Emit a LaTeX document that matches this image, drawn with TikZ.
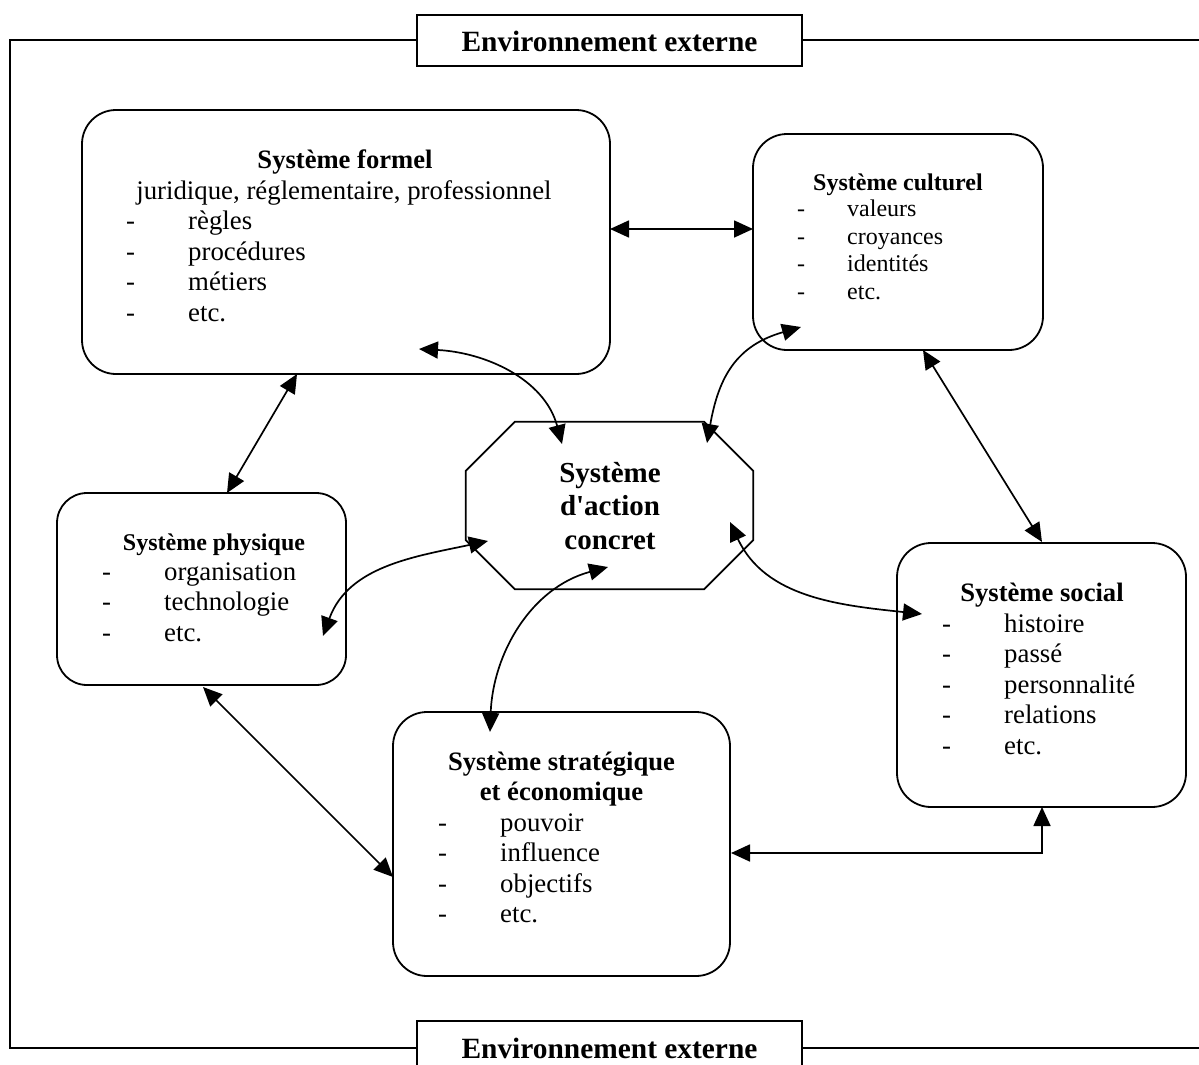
\documentclass[tikz,border=0pt]{standalone}
\usepackage{fontspec}
\setmainfont{Liberation Serif}
\usetikzlibrary{arrows.meta}
\newcommand{\fbody}{\fontsize{26.8}{30.5}\selectfont}
\newcommand{\fsmall}{\fontsize{24}{27.6}\selectfont}
\newcommand{\fhead}{\fontsize{26.6}{30.5}\selectfont\bfseries}
\newcommand{\fsmallhead}{\fontsize{24}{27.6}\selectfont\bfseries}
\newcommand{\fbig}{\fontsize{29}{33}\selectfont\bfseries}
\newcommand{\fenv}{\fontsize{29.4}{33}\selectfont\bfseries}
\begin{document}
\begin{tikzpicture}[x=1pt,y=-1pt,
  frameline/.style={line width=1.8pt},
  sysbox/.style={draw, line width=1.8pt, rounded corners=34pt, inner sep=0pt},
  envbox/.style={draw, line width=1.8pt, fill=white, inner sep=0pt,
                 minimum width=385pt, minimum height=51pt},
  link/.style={line width=1.7pt,
               {Triangle[length=19pt,width=17pt]}-{Triangle[length=19pt,width=17pt]}},
  txt/.style={inner sep=0pt, anchor=base west},
  ttl/.style={inner sep=0pt, anchor=base},
]
\useasboundingbox (0,0) rectangle (1199,1065);

% outer frame of the environment
\draw[frameline] (1199,40) -- (10,40) -- (10,1048) -- (1199,1048);
\node[envbox] (envtop) at (609.5,40.5) {};
\node[ttl, font=\fenv] (envtoplbl) at (609.5,52) {Environnement externe};
\node[envbox] (envbot) at (609.5,1046.5) {};
\node[ttl, font=\fenv] (envbotlbl) at (609.5,1058) {Environnement externe};

% system boxes
\node[sysbox, minimum width=528pt, minimum height=264pt] (formel) at (346,242) {};
\node[sysbox, minimum width=290pt, minimum height=216pt] (culturel) at (898,242) {};
\node[sysbox, rounded corners=30pt, minimum width=289pt, minimum height=192pt] (physique) at (201.5,589) {};
\node[sysbox, minimum width=289pt, minimum height=264pt] (social) at (1041.5,675) {};
\node[sysbox, minimum width=337pt, minimum height=264pt] (strat) at (561.5,844) {};

% central octagon
\node[inner sep=0pt, minimum width=287pt, minimum height=167pt] (action) at (609.5,505.5) {};
\draw[line width=1.8pt]
  ([xshift=49pt]action.north west) -- ([xshift=-49pt]action.north east)
  -- ([yshift=-49pt]action.north east) -- ([yshift=49pt]action.south east)
  -- ([xshift=-49pt]action.south east) -- ([xshift=49pt]action.south west)
  -- ([yshift=49pt]action.south west) -- ([yshift=-49pt]action.north west) -- cycle;
\node[ttl, font=\fbig] (act1) at (610,482.7) {Système};
\node[ttl, font=\fbig] (act2) at (610,515.7) {d\textquotesingle action};
\node[ttl, font=\fbig] (act3) at (610,549) {concret};

% Système formel
\node[ttl, font=\fhead] (formelT) at (345,168) {Système formel};
\node[ttl, font=\fbody] (formelS) at (344,199) {juridique, réglementaire, professionnel};
\foreach \t [count=\i] in {règles, procédures, métiers, etc.} {
  \node[txt, font=\fbody] (formelD\i) at (126,{229.5+30.5*(\i-1)}) {-};
  \node[txt, font=\fbody] (formelI\i) at (188,{229.5+30.5*(\i-1)}) {\t};
}

% Système culturel
\node[ttl, font=\fsmallhead] (culturelT) at (898,190) {Système culturel};
\foreach \t [count=\i] in {valeurs, croyances, identités, etc.} {
  \node[txt, font=\fsmall] (culturelD\i) at (797,{216.7+27.6*(\i-1)}) {-};
  \node[txt, font=\fsmall] (culturelI\i) at (847,{216.7+27.6*(\i-1)}) {\t};
}

% Système physique
\node[ttl, font=\fsmallhead] (physiqueT) at (214,550) {Système physique};
\foreach \t [count=\i] in {organisation, technologie, etc.} {
  \node[txt, font=\fbody] (physiqueD\i) at (102,{580+30.5*(\i-1)}) {-};
  \node[txt, font=\fbody] (physiqueI\i) at (164,{580+30.5*(\i-1)}) {\t};
}

% Système social
\node[ttl, font=\fhead] (socialT) at (1042,601.5) {Système social};
\foreach \t [count=\i] in {histoire, passé, personnalité, relations, etc.} {
  \node[txt, font=\fbody] (socialD\i) at (942,{632+30.5*(\i-1)}) {-};
  \node[txt, font=\fbody] (socialI\i) at (1004,{632+30.5*(\i-1)}) {\t};
}

% Système stratégique et économique
\node[ttl, font=\fhead] (stratT1) at (561.5,770) {Système stratégique};
\node[ttl, font=\fhead] (stratT2) at (561.5,800.5) {et économique};
\foreach \t [count=\i] in {pouvoir, influence, objectifs, etc.} {
  \node[txt, font=\fbody] (stratD\i) at (438,{831+30.5*(\i-1)}) {-};
  \node[txt, font=\fbody] (stratI\i) at (500,{831+30.5*(\i-1)}) {\t};
}

% connector end points
\coordinate (fcA) at (610,229);
\coordinate (fcB) at (753,229);
\coordinate (fpA) at (297,374);
\coordinate (fpB) at (227,493);
\coordinate (psA) at (203,687);
\coordinate (psB) at (393,877);
\coordinate (csA) at (923,350);
\coordinate (csB) at (1042,542);
\coordinate (ssA) at (731,853);
\coordinate (ssB) at (1042,807);
\coordinate (faA) at (419,349);
\coordinate (faB) at (562,444);
\coordinate (caA) at (801,327);
\coordinate (caB) at (707,443);
\coordinate (paA) at (488,541);
\coordinate (paB) at (323,636);
\coordinate (saA) at (490,732);
\coordinate (saB) at (608,567);
\coordinate (oaA) at (730,522);
\coordinate (oaB) at (922,614);

% straight links between systems
\draw[link] (fcA) -- (fcB);
\draw[link] (fpA) -- (fpB);
\draw[link] (psA) -- (psB);
\draw[link] (csA) -- (csB);
\draw[link] (ssA) -| (ssB);

% curved links to the concrete action system
\draw[link] (faA) to[out=-3,in=105] (faB);
\draw[link] (caA) to[out=196,in=80,looseness=1.15] (caB);
\draw[link] (paA) to[out=192,in=70] (paB);
\draw[link] (saA) to[out=88,in=195] (saB);
\draw[link] (oaA) to[out=-65,in=174] (oaB);
\end{tikzpicture}
\end{document}
